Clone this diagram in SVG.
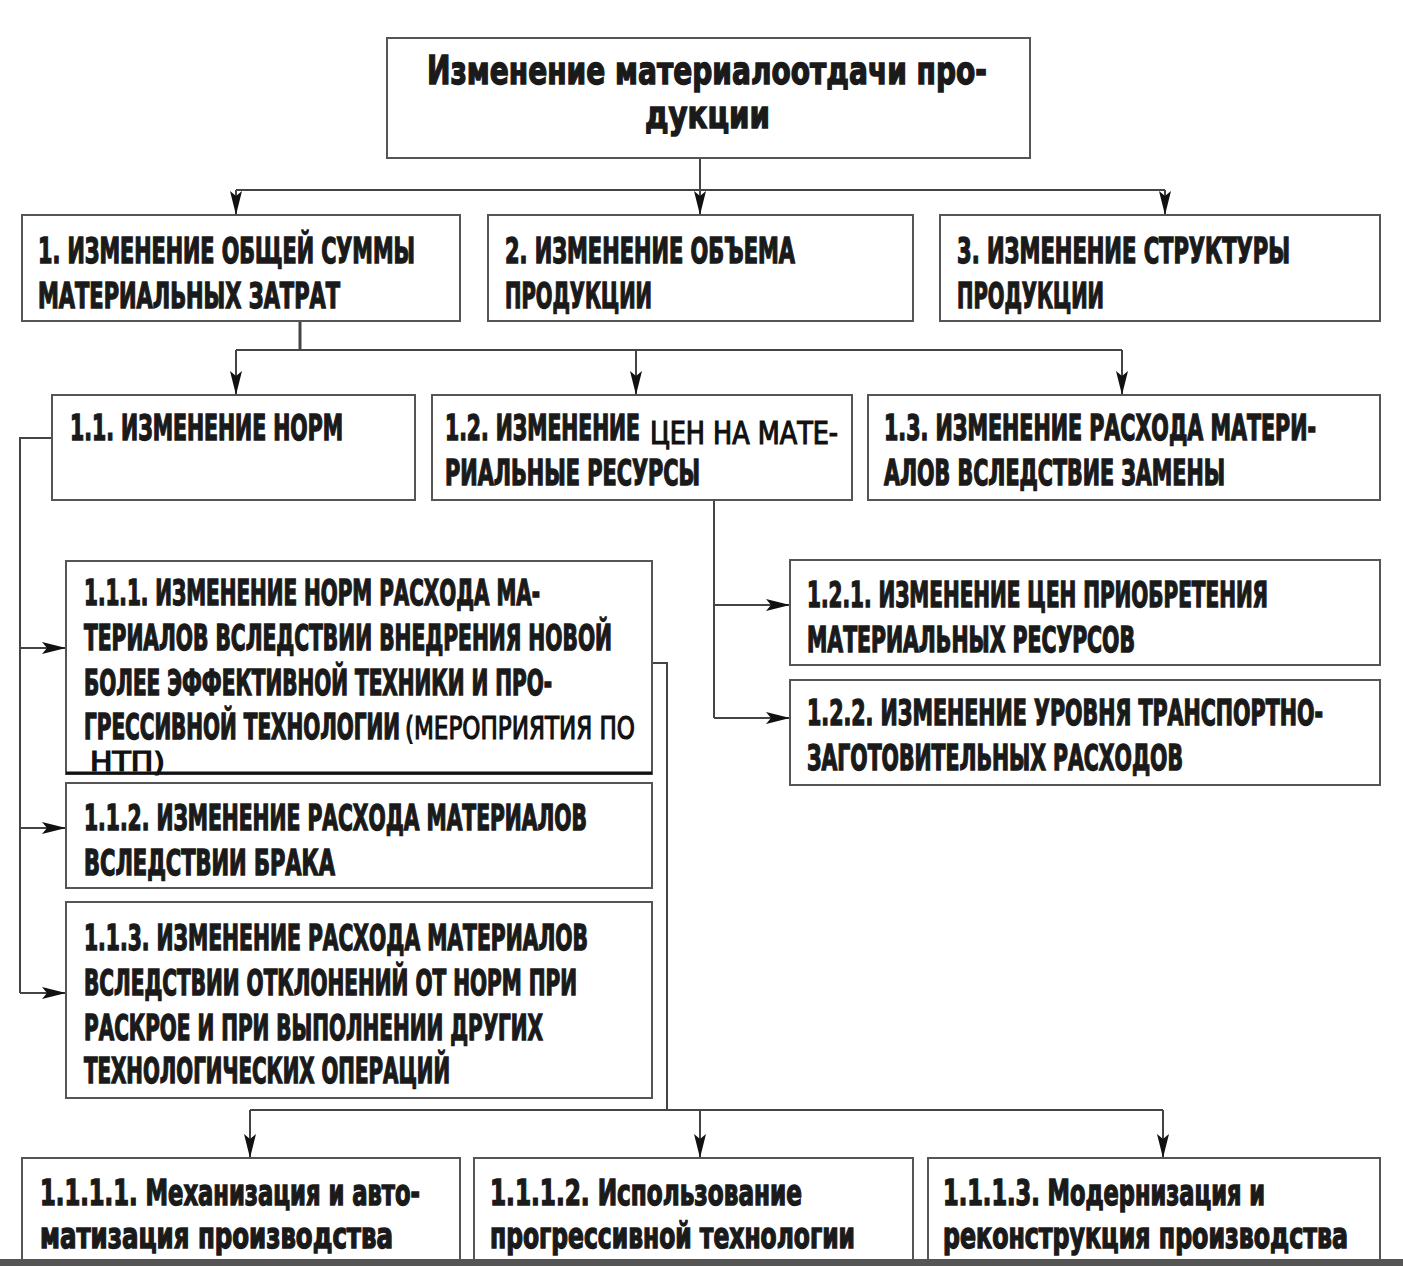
<svg xmlns="http://www.w3.org/2000/svg" width="1403" height="1266" viewBox="0 0 1403 1266">
<defs>
<style>
.box{fill:#fff;stroke:#555;stroke-width:2}
.t{font-family:"DejaVu Sans Condensed","Liberation Sans",sans-serif;font-stretch:condensed;font-weight:bold;font-size:35px;fill:#1a1a1a;stroke:#1a1a1a;stroke-width:1.4}
.h{font-family:"DejaVu Sans Condensed","Liberation Sans",sans-serif;font-stretch:condensed;font-weight:normal;font-size:32px;fill:#111;stroke:#111;stroke-width:1.2}
.c{fill:none;stroke:#444;stroke-width:2}
</style>
<marker id="ar" viewBox="0 0 24 14" refX="24" refY="7" markerWidth="24" markerHeight="14" markerUnits="userSpaceOnUse" orient="auto">
<path d="M0,1 L24,7 L0,13 L5,7 z" fill="#111"/>
</marker>
</defs>
<rect width="1403" height="1266" fill="#fff"/>

<g id="connectors">
<path class="c" d="M700,158 V215" marker-end="url(#ar)"/>
<path class="c" d="M236,190 H1165"/>
<path class="c" d="M236,190 V215" marker-end="url(#ar)"/>
<path class="c" d="M1165,190 V215" marker-end="url(#ar)"/>
<path class="c" d="M300,321 V350" style="stroke-width:3"/>
<path class="c" d="M236,350 H1122"/>
<path class="c" d="M236,350 V395" marker-end="url(#ar)"/>
<path class="c" d="M636,350 V395" marker-end="url(#ar)"/>
<path class="c" d="M1122,350 V395" marker-end="url(#ar)"/>
<path class="c" d="M52,438 H20 V993"/>
<path class="c" d="M20,648 H66" marker-end="url(#ar)"/>
<path class="c" d="M20,828 H66" marker-end="url(#ar)"/>
<path class="c" d="M20,993 H66" marker-end="url(#ar)"/>
<path class="c" d="M714,500 V718"/>
<path class="c" d="M714,605 H790" marker-end="url(#ar)"/>
<path class="c" d="M714,718 H790" marker-end="url(#ar)"/>
<path class="c" d="M652,663 H667 V1110"/>
<path class="c" d="M250,1110 H1163"/>
<path class="c" d="M250,1110 V1158" marker-end="url(#ar)"/>
<path class="c" d="M700,1110 V1158" marker-end="url(#ar)"/>
<path class="c" d="M1163,1110 V1158" marker-end="url(#ar)"/>
</g>

<g id="root">
<rect class="box" x="387" y="38" width="643" height="120"/>
<g transform="scale(0.625,1)">
<text class="t" x="683.2" y="84" style="font-size:39px" textLength="896" lengthAdjust="spacingAndGlyphs">Изменение материалоотдачи про-</text>
<text class="t" x="1032" y="128" style="font-size:39px" textLength="200" lengthAdjust="spacingAndGlyphs">дукции</text>
</g>
</g>

<g id="n1">
<rect class="box" x="22" y="215" width="438" height="106"/>
<g transform="scale(0.625,1)">
<text class="t" x="60.8" y="263" textLength="603.2" lengthAdjust="spacingAndGlyphs">1. ИЗМЕНЕНИЕ ОБЩЕЙ СУММЫ</text>
<text class="t" x="60.8" y="308" textLength="483.2" lengthAdjust="spacingAndGlyphs">МАТЕРИАЛЬНЫХ ЗАТРАТ</text>
</g>
</g>
<g id="n2">
<rect class="box" x="488" y="215" width="425" height="106"/>
<g transform="scale(0.625,1)">
<text class="t" x="808" y="263" textLength="464" lengthAdjust="spacingAndGlyphs">2. ИЗМЕНЕНИЕ ОБЪЕМА</text>
<text class="t" x="808" y="308" textLength="235.2" lengthAdjust="spacingAndGlyphs">ПРОДУКЦИИ</text>
</g>
</g>
<g id="n3">
<rect class="box" x="940" y="215" width="440" height="106"/>
<g transform="scale(0.625,1)">
<text class="t" x="1531.2" y="263" textLength="532.8" lengthAdjust="spacingAndGlyphs">3. ИЗМЕНЕНИЕ СТРУКТУРЫ</text>
<text class="t" x="1531.2" y="308" textLength="235.2" lengthAdjust="spacingAndGlyphs">ПРОДУКЦИИ</text>
</g>
</g>

<g id="n1_1">
<rect class="box" x="52" y="395" width="363" height="105"/>
<g transform="scale(0.625,1)">
<text class="t" x="112" y="440" textLength="436.8" lengthAdjust="spacingAndGlyphs">1.1. ИЗМЕНЕНИЕ НОРМ</text>
</g>
</g>
<g id="n1_2">
<rect class="box" x="432" y="395" width="420" height="105"/>
<g transform="scale(0.625,1)">
<text class="t" x="712" y="440" textLength="312" lengthAdjust="spacingAndGlyphs">1.2. ИЗМЕНЕНИЕ</text>
<text class="h" x="1040" y="444" textLength="300.8" lengthAdjust="spacingAndGlyphs">ЦЕН НА МАТЕ-</text>
<text class="t" x="712" y="485" textLength="408" lengthAdjust="spacingAndGlyphs">РИАЛЬНЫЕ РЕСУРСЫ</text>
</g>
</g>
<g id="n1_3">
<rect class="box" x="868" y="395" width="512" height="105"/>
<g transform="scale(0.625,1)">
<text class="t" x="1414.4" y="440" textLength="691.2" lengthAdjust="spacingAndGlyphs">1.3. ИЗМЕНЕНИЕ РАСХОДА МАТЕРИ-</text>
<text class="t" x="1414.4" y="485" textLength="545.6" lengthAdjust="spacingAndGlyphs">АЛОВ ВСЛЕДСТВИЕ ЗАМЕНЫ</text>
</g>
</g>

<g id="n1_1_1">
<rect class="box" x="66" y="561" width="586" height="213"/>
<path d="M66,773 H652" stroke="#111" stroke-width="3"/>
<g transform="scale(0.625,1)">
<text class="t" x="134.4" y="605" textLength="729.6" lengthAdjust="spacingAndGlyphs">1.1.1. ИЗМЕНЕНИЕ НОРМ РАСХОДА МА-</text>
<text class="t" x="134.4" y="650" textLength="844.8" lengthAdjust="spacingAndGlyphs">ТЕРИАЛОВ ВСЛЕДСТВИИ ВНЕДРЕНИЯ НОВОЙ</text>
<text class="t" x="134.4" y="695" textLength="748.8" lengthAdjust="spacingAndGlyphs">БОЛЕЕ ЭФФЕКТИВНОЙ ТЕХНИКИ И ПРО-</text>
<text class="t" x="134.4" y="739" textLength="505.6" lengthAdjust="spacingAndGlyphs">ГРЕССИВНОЙ ТЕХНОЛОГИИ</text>
<text class="h" x="648" y="739" textLength="368" lengthAdjust="spacingAndGlyphs">(МЕРОПРИЯТИЯ ПО</text>
<text class="h" x="144" y="771" style="font-size:26px" textLength="120" lengthAdjust="spacingAndGlyphs">НТП)</text>
</g>
</g>
<g id="n1_1_2">
<rect class="box" x="66" y="783" width="586" height="105"/>
<g transform="scale(0.625,1)">
<text class="t" x="134.4" y="830" textLength="804.8" lengthAdjust="spacingAndGlyphs">1.1.2. ИЗМЕНЕНИЕ РАСХОДА МАТЕРИАЛОВ</text>
<text class="t" x="134.4" y="875" textLength="401.6" lengthAdjust="spacingAndGlyphs">ВСЛЕДСТВИИ БРАКА</text>
</g>
</g>
<g id="n1_1_3">
<rect class="box" x="66" y="902" width="586" height="196"/>
<g transform="scale(0.625,1)">
<text class="t" x="134.4" y="950" textLength="806.4" lengthAdjust="spacingAndGlyphs">1.1.3. ИЗМЕНЕНИЕ РАСХОДА МАТЕРИАЛОВ</text>
<text class="t" x="134.4" y="995" textLength="788.8" lengthAdjust="spacingAndGlyphs">ВСЛЕДСТВИИ ОТКЛОНЕНИЙ ОТ НОРМ ПРИ</text>
<text class="t" x="134.4" y="1040" textLength="734.4" lengthAdjust="spacingAndGlyphs">РАСКРОЕ И ПРИ ВЫПОЛНЕНИИ ДРУГИХ</text>
<text class="t" x="134.4" y="1083" textLength="585.6" lengthAdjust="spacingAndGlyphs">ТЕХНОЛОГИЧЕСКИХ ОПЕРАЦИЙ</text>
</g>
</g>

<g id="n1_2_1">
<rect class="box" x="790" y="560" width="590" height="105"/>
<g transform="scale(0.625,1)">
<text class="t" x="1291.2" y="607" textLength="737.6" lengthAdjust="spacingAndGlyphs">1.2.1. ИЗМЕНЕНИЕ ЦЕН ПРИОБРЕТЕНИЯ</text>
<text class="t" x="1291.2" y="652" textLength="524.8" lengthAdjust="spacingAndGlyphs">МАТЕРИАЛЬНЫХ РЕСУРСОВ</text>
</g>
</g>
<g id="n1_2_2">
<rect class="box" x="790" y="680" width="590" height="105"/>
<g transform="scale(0.625,1)">
<text class="t" x="1291.2" y="725" textLength="825.6" lengthAdjust="spacingAndGlyphs">1.2.2. ИЗМЕНЕНИЕ УРОВНЯ ТРАНСПОРТНО-</text>
<text class="t" x="1291.2" y="770" textLength="601.6" lengthAdjust="spacingAndGlyphs">ЗАГОТОВИТЕЛЬНЫХ РАСХОДОВ</text>
</g>
</g>

<g id="n1_1_1_1">
<rect class="box" x="22" y="1158" width="438" height="110"/>
<g transform="scale(0.625,1)">
<text class="t" x="64" y="1205" textLength="608" lengthAdjust="spacingAndGlyphs">1.1.1.1. Механизация и авто-</text>
<text class="t" x="64" y="1248" textLength="564.8" lengthAdjust="spacingAndGlyphs">матизация производства</text>
</g>
</g>
<g id="n1_1_1_2">
<rect class="box" x="474" y="1158" width="439" height="110"/>
<g transform="scale(0.625,1)">
<text class="t" x="784" y="1205" textLength="499.2" lengthAdjust="spacingAndGlyphs">1.1.1.2. Использование</text>
<text class="t" x="784" y="1248" textLength="584" lengthAdjust="spacingAndGlyphs">прогрессивной технологии</text>
</g>
</g>
<g id="n1_1_1_3">
<rect class="box" x="928" y="1158" width="452" height="110"/>
<g transform="scale(0.625,1)">
<text class="t" x="1508.8" y="1205" textLength="515.2" lengthAdjust="spacingAndGlyphs">1.1.1.3. Модернизация и</text>
<text class="t" x="1508.8" y="1248" textLength="648" lengthAdjust="spacingAndGlyphs">реконструкция производства</text>
</g>
</g>

<rect x="0" y="1259" width="1403" height="7" fill="#555"/>
</svg>
